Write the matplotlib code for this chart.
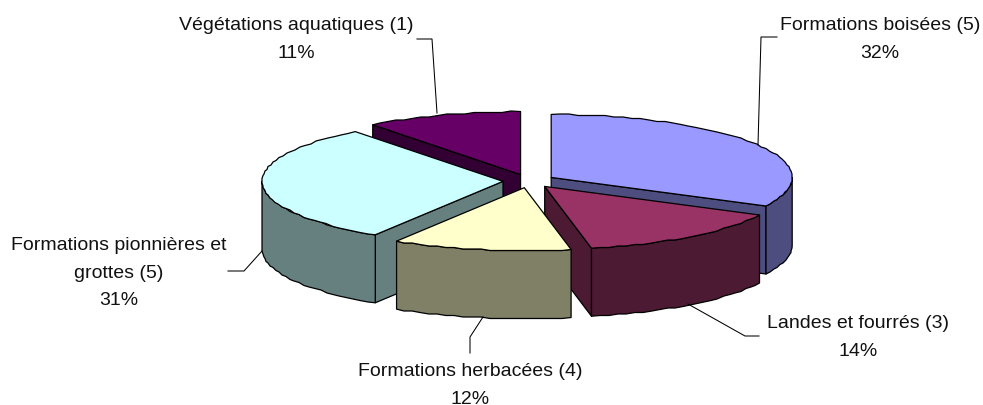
"""
Exploded 3D pie of the habitat groups, drawn by hand with polygons.
Canvas units are pixels of the 983x405 picture, y going down.
"""
import numpy as np
import matplotlib
matplotlib.use("Agg")
import matplotlib.pyplot as plt
from matplotlib.patches import Polygon

categories = ["Formations boisées (5)", "Landes et fourrés (3)", "Formations herbacées (4)",
              "Formations pionnières et\ngrottes (5)", "Végétations aquatiques (1)"]
shares = [32.49, 14.4, 12.0, 30.6, 10.51]
top_colours = ["#9999FF", "#993366", "#FFFFCC", "#CCFFFF", "#660066"]
side_colours = ["#4D4D80", "#4D1A33", "#808066", "#668080", "#330033"]

# label centre x and first baseline, and leader line per slice
label_pos = [(880, 30), (858, 328), (470, 376), (119, 250), (296, 30)]
leaders = [
    [(777, 37), (761, 37), (758, 145)],
    [(759, 336), (745, 336), (688, 304)],
    [(470, 353), (470, 337), (483, 317)],
    [(228, 271), (244, 271), (262, 251)],
    [(417, 39), (432, 39), (437, 113)],
]

plt.rcParams['font.family'] = ['Liberation Sans', 'DejaVu Sans']

CX, CY = 529, 181
RX, RY = 241, 63
DEPTH = 68
EXPLODE = 0.108
LINE_STEP = 27.7


def rim(start, end, ox, oy):
    # coarse, snapped samples give the stepped outline of the original rendering
    n = max(2, int(abs(end - start) * RX / 9) + 1)
    t = np.linspace(start, end, n)
    x = ox + RX * np.sin(t)
    y = oy - RY * np.cos(t)
    x[1:-1] = np.round(x[1:-1])
    y[1:-1] = np.round(y[1:-1] / 1.5) * 1.5
    return x, y


def draw_slice(ax, start, end, top, side):
    mid = (start + end) / 2
    ox = CX + EXPLODE * RX * np.sin(mid)
    oy = CY - EXPLODE * RY * np.cos(mid)
    line = dict(edgecolor="black", linewidth=0.9, joinstyle="round")

    # radial walls, only the ones turned to the viewer
    for edge, visible in ((start, np.sin(start) < -1e-6), (end, np.sin(end) > 1e-6)):
        if visible:
            x = ox + RX * np.sin(edge)
            y = oy - RY * np.cos(edge)
            ax.add_patch(Polygon([(ox, oy), (x, y), (x, y + DEPTH), (ox, oy + DEPTH)],
                                 facecolor=side, **line))

    # outer wall, front half of the rim only
    lo, hi = max(start, np.pi / 2), min(end, 3 * np.pi / 2)
    if hi > lo:
        x, y = rim(lo, hi, ox, oy)
        pts = np.r_[np.c_[x, y], np.c_[x, y + DEPTH][::-1]]
        ax.add_patch(Polygon(pts, facecolor=side, **line))

    x, y = rim(start, end, ox, oy)
    ax.add_patch(Polygon(np.r_[[(ox, oy)], np.c_[x, y]], facecolor=top, **line))


fig = plt.figure(figsize=(9.83, 4.05), dpi=100)
ax = fig.add_axes([0, 0, 1, 1])
ax.set_xlim(0, 983)
ax.set_ylim(405, 0)
ax.axis("off")

edges = np.r_[0, np.cumsum(shares)] / sum(shares) * 2 * np.pi
mids = (edges[:-1] + edges[1:]) / 2
# back slices first
for i in np.argsort(-np.cos(mids)):
    draw_slice(ax, edges[i], edges[i + 1], top_colours[i], side_colours[i])

for name, share, pos, leader in zip(categories, shares, label_pos, leaders):
    lines = name.split("\n") + ["%d%%" % round(share)]
    for k, text in enumerate(lines):
        ax.text(pos[0], pos[1] + k * LINE_STEP, text, ha="center", va="baseline",
                fontsize=14, color="#111111")
    ax.plot(*zip(*leader), color="black", linewidth=0.75)

fig.savefig("out.png", dpi=100)
